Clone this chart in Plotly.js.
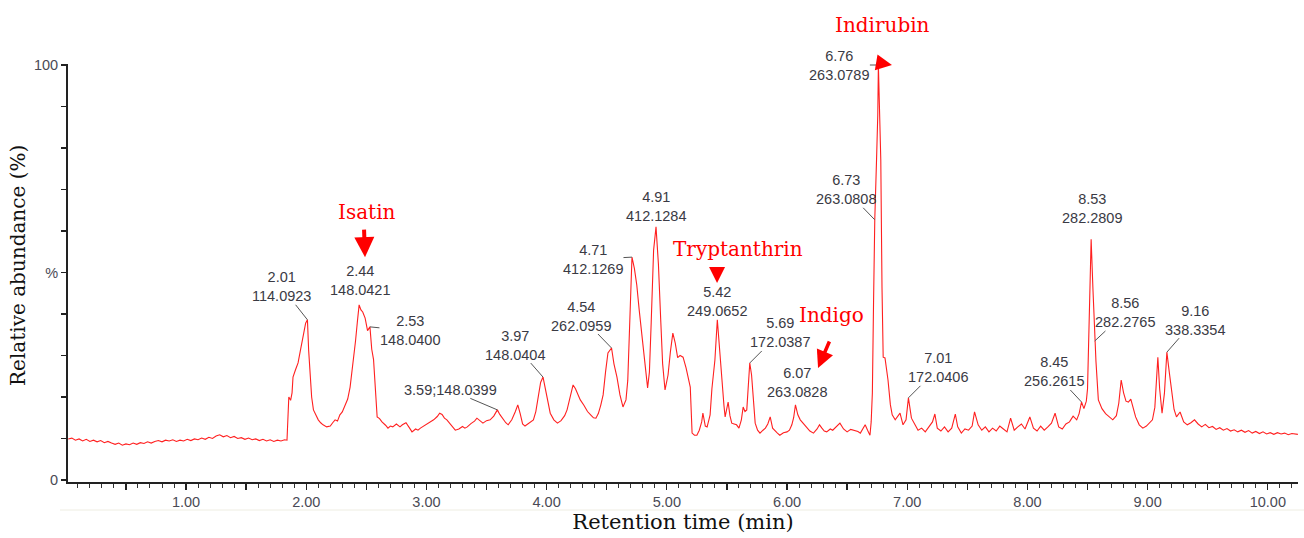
<!DOCTYPE html>
<html>
<head>
<meta charset="utf-8">
<script src="https://cdn.plot.ly/plotly-3.0.1.min.js"></script>
<style>
  html, body { margin: 0; padding: 0; background: #ffffff; }
  #chart { width: 1304px; height: 538px; }
</style>
</head>
<body>
<div id="chart"></div>
<script>
// Base peak chromatogram: retention time (min) and relative abundance (%)
const rt = [
  0.02, 0.05, 0.08, 0.11, 0.14, 0.17, 0.20, 0.23, 0.26, 0.29,
  0.32, 0.35, 0.38, 0.41, 0.44, 0.47, 0.50, 0.53, 0.56, 0.59,
  0.62, 0.65, 0.68, 0.71, 0.74, 0.77, 0.80, 0.83, 0.86, 0.89,
  0.92, 0.95, 0.98, 1.01, 1.04, 1.07, 1.10, 1.13, 1.16, 1.19,
  1.22, 1.25, 1.28, 1.31, 1.34, 1.37, 1.40, 1.43, 1.46, 1.49,
  1.52, 1.55, 1.58, 1.61, 1.64, 1.67, 1.70, 1.73, 1.76, 1.79,
  1.82, 1.84,
  1.855, 1.87, 1.882, 1.89, 1.91, 1.932, 1.95, 1.965, 1.98, 1.995,
  2.01, 2.02, 2.03, 2.045, 2.06, 2.08, 2.10, 2.12, 2.14, 2.17,
  2.20, 2.22, 2.24, 2.26, 2.28, 2.30, 2.32, 2.345, 2.365, 2.39,
  2.41, 2.425, 2.44, 2.455, 2.47, 2.49, 2.51, 2.53, 2.545, 2.56,
  2.575, 2.59, 2.61, 2.63, 2.66, 2.68, 2.70, 2.72, 2.75, 2.78,
  2.80, 2.83, 2.86, 2.88, 2.91, 2.93, 2.95, 2.98, 3.00, 3.03,
  3.06, 3.09, 3.11, 3.13, 3.15, 3.17, 3.20, 3.22, 3.24, 3.27,
  3.30, 3.32, 3.34, 3.37, 3.40, 3.42, 3.44, 3.47, 3.50, 3.53,
  3.56, 3.59, 3.61, 3.64, 3.66, 3.68, 3.71, 3.74, 3.76, 3.78,
  3.80, 3.82, 3.85, 3.87, 3.89, 3.91, 3.93, 3.95, 3.97, 3.99,
  4.01, 4.03, 4.06, 4.09, 4.12, 4.15, 4.17, 4.20, 4.22, 4.24,
  4.26, 4.28, 4.31, 4.34, 4.37, 4.39, 4.41, 4.43, 4.45, 4.47,
  4.49, 4.51, 4.54, 4.56, 4.585, 4.61, 4.635, 4.66, 4.675, 4.69,
  4.71, 4.73, 4.75, 4.77, 4.79, 4.815, 4.84, 4.855, 4.87, 4.89,
  4.91, 4.93, 4.95, 4.965, 4.985, 5.01, 5.03, 5.05, 5.07, 5.09,
  5.11, 5.135, 5.16, 5.18, 5.195, 5.21, 5.23, 5.25, 5.27, 5.29,
  5.30, 5.32, 5.335, 5.35, 5.36, 5.375, 5.39, 5.40, 5.42, 5.435,
  5.45, 5.46, 5.475, 5.485, 5.50, 5.51, 5.525, 5.54, 5.56, 5.58,
  5.60, 5.62, 5.635, 5.65, 5.665, 5.675, 5.69, 5.705, 5.72, 5.735,
  5.755, 5.775, 5.80, 5.82, 5.84, 5.86, 5.88, 5.90, 5.92, 5.94,
  5.97, 6.00, 6.02, 6.04, 6.055, 6.07, 6.09, 6.11, 6.13, 6.16,
  6.19, 6.22, 6.25, 6.27, 6.29, 6.31, 6.33, 6.36, 6.38, 6.41,
  6.44, 6.47, 6.50, 6.53, 6.56, 6.59, 6.61, 6.63, 6.65, 6.67,
  6.69, 6.70, 6.71, 6.72, 6.73, 6.745, 6.755, 6.76, 6.77, 6.78,
  6.79, 6.80, 6.815, 6.84, 6.86, 6.875, 6.90, 6.94, 6.965, 6.99,
  7.01, 7.035, 7.065, 7.09, 7.12, 7.15, 7.18, 7.21, 7.23, 7.25,
  7.28, 7.31, 7.34, 7.37, 7.40, 7.42, 7.45, 7.48, 7.51, 7.54,
  7.56, 7.59, 7.62, 7.65, 7.68, 7.71, 7.74, 7.77, 7.80, 7.83,
  7.86, 7.89, 7.92, 7.95, 7.98, 8.02, 8.05, 8.08, 8.11, 8.14,
  8.17, 8.20, 8.23, 8.26, 8.29, 8.32, 8.35, 8.38, 8.41, 8.43,
  8.45, 8.47, 8.49, 8.50, 8.515, 8.53, 8.545, 8.56, 8.57, 8.59,
  8.62, 8.65, 8.68, 8.71, 8.74, 8.76, 8.78, 8.80, 8.82, 8.84,
  8.86, 8.88, 8.90, 8.93, 8.96, 8.99, 9.01, 9.04, 9.06, 9.075,
  9.085, 9.10, 9.12, 9.14, 9.16, 9.18, 9.20, 9.22, 9.24, 9.27,
  9.30, 9.33, 9.36, 9.39, 9.42, 9.45, 9.48, 9.51, 9.54, 9.57,
  9.60, 9.63, 9.66, 9.69, 9.72, 9.75, 9.78, 9.81, 9.84, 9.87,
  9.90, 9.93, 9.96, 9.99, 10.02, 10.05, 10.08, 10.11, 10.14, 10.17,
  10.20, 10.25
];

const abundance = [
  9.9, 10.1, 9.6, 9.9, 9.4, 9.8, 9.3, 9.6, 9.2, 9.5,
  9.0, 9.3, 8.9, 8.6, 8.9, 8.4, 8.7, 8.5, 8.9, 8.6,
  9.0, 8.8, 9.2, 8.9, 9.3, 9.5, 9.2, 9.6, 9.4, 9.7,
  9.3, 9.6, 9.4, 9.8, 9.5, 9.9, 9.7, 10.1, 9.8, 10.3,
  10.0, 10.6, 10.9, 10.4, 10.7, 10.2, 10.5, 10.0, 10.2, 9.8,
  10.1, 9.7, 9.9, 9.5, 9.8, 9.4, 9.7, 9.3, 9.6, 9.4,
  9.7, 9.6,
  20.0, 19.2, 21.0, 24.8, 26.5, 28.2, 31.0, 33.7, 35.5, 37.8,
  38.6, 31.3, 26.0, 20.0, 16.9, 15.5, 14.5, 13.8, 13.3, 12.8,
  13.0, 13.8, 14.5, 14.2, 15.7, 16.4, 17.6, 19.5, 22.4, 28.2,
  33.5, 38.0, 42.2, 41.0, 40.5, 39.0, 36.0, 36.9, 31.5, 29.0,
  21.0, 15.2, 14.8, 14.0, 13.2, 12.5, 13.0, 12.8, 13.5, 12.8,
  13.3, 13.8, 12.5, 11.6, 12.3, 12.0, 12.5, 13.0, 13.3, 13.8,
  14.5, 15.3, 16.1, 15.8, 14.9, 14.5, 13.5, 12.8, 12.0, 12.3,
  12.9, 12.5, 12.8, 13.6, 14.2, 14.9, 14.5, 13.7, 14.3, 14.5,
  15.4, 16.9, 15.8, 14.5, 13.8, 13.3, 14.5, 16.5, 18.1, 16.0,
  13.5, 13.0, 13.6, 14.2, 14.5, 16.5, 20.0, 23.5, 24.8, 22.0,
  18.5, 16.1, 14.5, 13.7, 14.3, 15.5, 16.9, 20.5, 22.9, 22.0,
  20.8, 19.3, 18.0, 16.5, 15.6, 15.0, 14.9, 16.0, 18.0, 20.5,
  26.0, 30.6, 31.8, 28.0, 24.8, 20.5, 17.6, 19.3, 24.0, 36.0,
  53.7, 51.0, 47.0, 41.0, 35.0, 28.9, 22.2, 26.0, 38.0, 55.4,
  61.0, 52.0, 38.0, 28.0, 21.7, 25.3, 31.0, 35.4, 33.0, 29.5,
  30.0, 29.6, 27.0, 24.5, 22.4, 11.3, 10.8, 10.8, 12.0, 14.0,
  16.1, 13.0, 12.8, 14.5, 15.7, 22.0, 27.2, 28.9, 38.6, 32.5,
  27.0, 24.1, 18.0, 15.2, 17.0, 18.8, 15.5, 13.7, 13.5, 13.3,
  12.5, 14.5, 17.6, 16.5, 16.9, 21.0, 28.2, 25.3, 19.0, 13.7,
  12.0, 11.3, 12.0, 12.5, 13.5, 15.2, 12.5, 11.8, 11.3, 10.8,
  11.4, 11.6, 12.0, 13.3, 15.0, 18.1, 15.7, 14.5, 13.7, 12.8,
  11.8, 11.3, 12.3, 13.3, 12.5, 11.8, 11.6, 12.3, 12.0, 12.8,
  13.7, 12.3, 11.6, 12.2, 12.0, 11.7, 11.3, 12.2, 13.3, 12.0,
  10.8, 14.0, 21.0, 43.4, 62.7, 77.5, 88.0, 100.0, 88.4, 77.1,
  46.5, 29.6, 29.4, 24.1, 18.1, 15.7, 14.5, 16.1, 13.3, 14.5,
  19.8, 14.9, 13.3, 12.0, 12.5, 11.6, 12.8, 14.0, 15.9, 12.5,
  11.8, 12.8, 11.6, 12.5, 15.9, 12.8, 11.3, 12.3, 12.0, 13.0,
  16.4, 13.3, 12.0, 12.8, 11.6, 12.5, 11.8, 13.0, 12.3, 11.6,
  14.9, 12.0, 12.8, 13.5, 12.3, 15.2, 12.5, 11.8, 13.0, 12.0,
  12.8, 13.7, 16.1, 12.8, 12.3, 13.5, 14.0, 15.4, 14.5, 16.0,
  18.8, 17.2, 19.0, 22.0, 40.0, 58.0, 46.0, 33.5, 28.7, 19.3,
  17.2, 16.0, 15.2, 14.5, 15.5, 18.5, 24.1, 21.0, 19.0, 18.8,
  19.5, 17.6, 15.2, 13.3, 12.5, 13.0, 13.7, 14.5, 17.5, 24.0,
  29.6, 22.0, 16.1, 21.0, 30.8, 26.0, 21.0, 17.0, 15.2, 16.4,
  14.0, 13.3, 13.8, 14.5, 13.5, 12.8, 13.4, 12.6, 12.9, 12.2,
  12.6, 12.0, 12.4, 11.8, 12.1, 11.6, 12.0, 11.5, 11.9, 11.3,
  11.7, 11.2, 11.6, 11.1, 11.4, 11.0, 11.4, 11.1, 11.3, 10.9,
  11.2, 11.0
];

// Labelled peaks: retention time (min) and measured m/z
const peakRt = [2.01, 2.44, 2.53, 3.59, 3.97, 4.54, 4.71, 4.91, 5.42, 5.69,
                6.07, 6.73, 6.76, 7.01, 8.45, 8.53, 8.56, 9.16];
const peakMz = ['114.0923', '148.0421', '148.0400', '148.0399', '148.0404',
                '262.0959', '412.1269', '412.1284', '249.0652', '172.0387',
                '263.0828', '263.0808', '263.0789', '172.0406', '256.2615',
                '282.2809', '282.2765', '338.3354'];

// Identified compounds
const compoundNames = ['Isatin', 'Tryptanthrin', 'Indigo', 'Indirubin'];

// Axis tick labels
const xTickValues = [0.5, 1, 1.5, 2, 2.5, 3, 3.5, 4, 4.5, 5, 5.5, 6, 6.5, 7, 7.5, 8, 8.5, 9, 9.5, 10];
const yTickValues = [0, 10, 20, 30, 40, 50, 60, 70, 80, 90, 100];
const yTickText = ['0', '', '', '', '', '%', '', '', '', '', '100'];

// ---- placement of the peak labels (pixel offset of the label from its peak, leader line shown?)
const peakLabelPlacement = [
  [-26, -33, true], [1, -24, false], [40, 4, true], [-47, -20, true], [-28, -32, true],
  [-31, -32, true], [-39, 2, true], [0, -20, false], [0, -18, false], [30, -30, true],
  [2, -22, false], [-29, -30, true], [-39, 0, true], [30, -30, true], [-28, -30, true],
  [1, -31, false], [30, -28, true], [28, -32, true]
];
const inlinePeakLabel = [false, false, false, true, false, false, false, false, false, false,
                         false, false, false, false, false, false, false, false];

// ---- placement of the compound names: anchor [min, %], extra pixel lift, arrow head / tail offset
const compoundTextPos = [[2.505, 64.6, 0], [5.592, 55.7, 0], [6.374, 39.8, 0], [6.798, 100, 40]];
const compoundArrow = [
  { head: [2.489, 53.7], ax: -1, ay: -29, w: 4 },
  { head: [5.418, 47.5], ax: 0, ay: -14, w: 3.2 },
  { head: [6.258, 27.0], ax: 12, ay: -28, w: 3.5 },
  { head: [6.873, 100.0], ax: -12, ay: -2, w: 3.2 }
];

function abundanceAt(t) {
  let best = 0;
  for (let i = 1; i < rt.length; i++) {
    if (Math.abs(rt[i] - t) < Math.abs(rt[best] - t)) best = i;
  }
  return abundance[best];
}

const annotations = [];

peakRt.forEach((t, i) => {
  const [ax, ay, leader] = peakLabelPlacement[i];
  const label = inlinePeakLabel[i]
    ? t.toFixed(2) + ';' + peakMz[i]
    : t.toFixed(2) + '<br>' + peakMz[i];
  annotations.push({
    x: t, y: abundanceAt(t), xref: 'x', yref: 'y',
    text: label, showarrow: true, ax: ax, ay: ay,
    arrowhead: 0, arrowwidth: 1, standoff: 0,
    arrowcolor: leader ? '#555555' : 'rgba(0,0,0,0)',
    font: { family: 'Liberation Sans, Arial, sans-serif', size: 14.5, color: '#3a3a44' },
    borderpad: 0
  });
});

compoundNames.forEach((name, i) => {
  annotations.push({
    x: compoundTextPos[i][0], y: compoundTextPos[i][1], xref: 'x', yref: 'y',
    yshift: compoundTextPos[i][2],
    text: name, showarrow: false,
    font: { family: 'DejaVu Serif, serif', size: 20, color: '#ff0000' }
  });
  const a = compoundArrow[i];
  annotations.push({
    x: a.head[0], y: a.head[1], xref: 'x', yref: 'y',
    text: '', showarrow: true, ax: a.ax, ay: a.ay,
    arrowhead: 2, arrowsize: 1, arrowwidth: a.w, standoff: 0,
    arrowcolor: '#ff0000'
  });
});

// Vertical axis title, set slightly above the middle of the axis
annotations.push({
  xref: 'paper', yref: 'paper', x: -0.0407, y: 0.519,
  xanchor: 'center', yanchor: 'middle', textangle: -90, showarrow: false,
  text: 'Relative abundance (%)',
  font: { family: 'DejaVu Serif, serif', size: 20, color: '#111111' }
});

const trace = {
  x: rt, y: abundance, type: 'scatter', mode: 'lines',
  line: { color: '#ff2020', width: 1.1 },
  hoverinfo: 'skip'
};

const layout = {
  width: 1304, height: 538,
  margin: { l: 68, r: 6, t: 64, b: 56 },
  paper_bgcolor: '#ffffff', plot_bgcolor: '#ffffff',
  showlegend: false,
  xaxis: {
    range: [0.018, 10.251],
    showline: true, linecolor: '#222222', linewidth: 2,
    showgrid: false, zeroline: false,
    tickmode: 'array', tickvals: xTickValues,
    ticktext: xTickValues.map(v => Number.isInteger(v) ? v.toFixed(2) : ''),
    ticks: 'outside', ticklen: 6, tickwidth: 1.3, tickcolor: '#222222',
    tickfont: { family: 'Liberation Sans, Arial, sans-serif', size: 14.5, color: '#4a4a55' },
    minor: { dtick: 0.1, tick0: 0, ticks: 'outside', ticklen: 4, tickwidth: 1, tickcolor: '#333333', showgrid: false },
    title: { text: 'Retention time (min)', standoff: 5,
             font: { family: 'DejaVu Serif, serif', size: 21, color: '#111111' } }
  },
  yaxis: {
    range: [-0.48, 100.24],
    showline: true, linecolor: '#222222', linewidth: 2,
    showgrid: false, zeroline: false,
    tickmode: 'array', tickvals: yTickValues, ticktext: yTickText,
    ticks: 'outside', ticklen: 5, tickwidth: 1.3, tickcolor: '#222222',
    tickfont: { family: 'Liberation Sans, Arial, sans-serif', size: 14.5, color: '#4a4a55' }
  },
  shapes: [
    { type: 'line', xref: 'paper', yref: 'paper', x0: -0.0065, x1: 1.005, y0: -0.067, y1: -0.067,
      line: { color: '#eeede2', width: 1 } }
  ],
  annotations: annotations
};

Plotly.newPlot('chart', [trace], layout, { displayModeBar: false, staticPlot: true });
</script>
</body>
</html>
